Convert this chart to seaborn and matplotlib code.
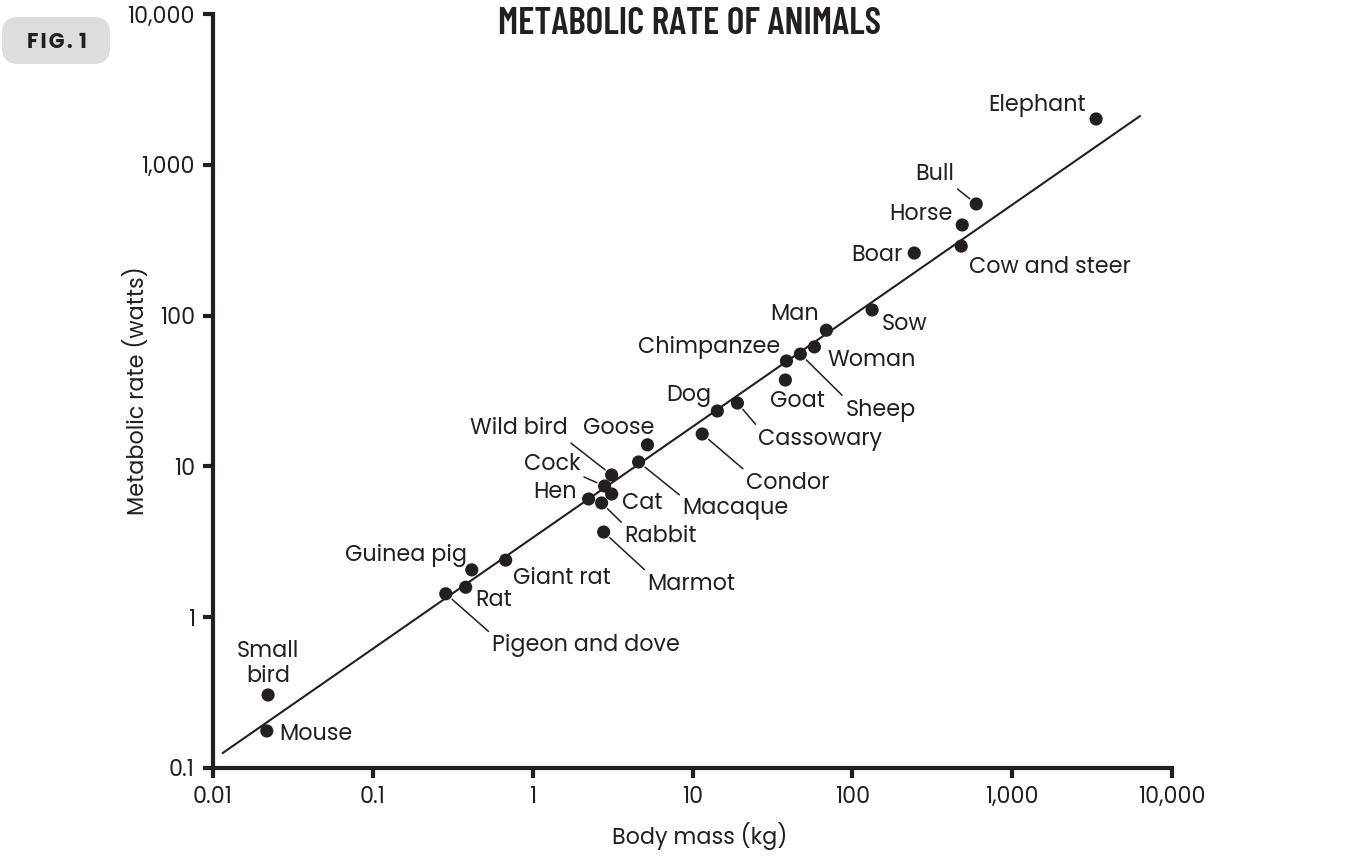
import matplotlib
matplotlib.use("Agg")
import matplotlib.pyplot as plt
from matplotlib.patches import FancyBboxPatch
import pandas as pd
import seaborn as sns

# data (log-log axes)
animals = [
    "Elephant", "Bull", "Horse", "Boar", "Cow and steer", "Sow", "Man",
    "Woman", "Sheep", "Chimpanzee", "Goat", "Dog", "Cassowary", "Condor",
    "Goose", "Macaque", "Wild bird", "Cock", "Cat", "Hen", "Rabbit",
    "Marmot", "Giant rat", "Guinea pig", "Rat", "Pigeon and dove",
    "Small\nbird", "Mouse",
]
body_mass_kg = [
    3350, 596, 487, 244, 480, 133, 68.8,
    57.9, 47.3, 38.7, 38.1, 14.3, 19.1, 11.5,
    5.23, 4.6, 3.12, 2.82, 3.12, 2.24, 2.70,
    2.78, 0.678, 0.416, 0.381, 0.286,
    0.0221, 0.0217,
]
metabolic_rate_w = [
    2013, 550, 399, 260, 289, 109, 80,
    62, 55.6, 50, 37.4, 23.3, 26.3, 16.4,
    13.9, 10.7, 8.77, 7.41, 6.56, 6.08, 5.72,
    3.67, 2.39, 2.06, 1.58, 1.43,
    0.305, 0.176,
]

# fitted line endpoints
fit_mass_kg = [0.0115, 6310]
fit_rate_w = [0.1257, 2107]

x_ticks = [0.01, 0.1, 1, 10, 100, 1000, 10000]
x_tick_labels = ["0.01", "0.1", "1", "10", "100", "1,000", "10,000"]
y_ticks = [0.1, 1, 10, 100, 1000, 10000]
y_tick_labels = ["0.1", "1", "10", "100", "1,000", "10,000"]

INK = "#231f20"
FONT = ["Poppins", "DejaVu Sans"]
FS = 16

# label placement: offset in pixels (dx, dy), alignment, leader line anchor on text
label_layout = {
    "Elephant": (-10, 13, "right", None),
    "Bull": (-22, 29, "right", (1, 0)),
    "Horse": (-10, 10, "right", None),
    "Boar": (-12, -2, "right", None),
    "Cow and steer": (8, -21, "left", None),
    "Sow": (10, -15, "left", None),
    "Man": (-7, 16, "right", None),
    "Woman": (13, -14, "left", None),
    "Sheep": (45, -56, "left", (0, 1)),
    "Chimpanzee": (-6, 13, "right", None),
    "Goat": (12, -21, "center", None),
    "Dog": (-6, 16, "right", None),
    "Cassowary": (21, -36, "left", (0, 1)),
    "Condor": (44, -49, "left", (0, 1)),
    "Goose": (-29, 16, "center", None),
    "Macaque": (44, -47, "left", (0, 1)),
    "Wild bird": (-44, 46, "right", (1, 0)),
    "Cock": (-24, 22, "right", (1, 0)),
    "Cat": (10, -9, "left", None),
    "Hen": (-12, 6, "right", None),
    "Rabbit": (23, -34, "left", (0, 1)),
    "Marmot": (44, -52, "left", (0, 1)),
    "Giant rat": (7, -18, "left", None),
    "Guinea pig": (-5, 14, "right", None),
    "Rat": (10, -13, "left", None),
    "Pigeon and dove": (46, -52, "left", (0, 1)),
    "Small\nbird": (0, 31, "center", None),
    "Mouse": (12, -4, "left", None),
}

df = pd.DataFrame({"animal": animals, "mass": body_mass_kg, "rate": metabolic_rate_w})
fit = pd.DataFrame({"mass": fit_mass_kg, "rate": fit_rate_w})

sns.set_theme(style="ticks")
plt.rcParams["font.family"] = FONT
plt.rcParams["text.color"] = INK

fig = plt.figure(figsize=(13.5, 8.66), dpi=100)
ax = fig.add_axes([213 / 1350, 98 / 866, 959 / 1350, 754 / 866])

sns.lineplot(data=fit, x="mass", y="rate", color=INK, linewidth=1.5, ax=ax)
sns.scatterplot(data=df, x="mass", y="rate", color=INK, s=90, edgecolor="none",
                ax=ax, zorder=3)

ax.set_xscale("log")
ax.set_yscale("log")
ax.set_xlim(0.01, 10000)
ax.set_ylim(0.1, 10000)
ax.set_xticks(x_ticks, x_tick_labels)
ax.set_yticks(y_ticks, y_tick_labels)
ax.minorticks_off()

for name, m, r in zip(animals, body_mass_kg, metabolic_rate_w):
    dx, dy, ha, rel = label_layout[name]
    kw = {}
    if rel is not None:
        kw["arrowprops"] = dict(arrowstyle="-", color=INK, lw=1.1, relpos=rel,
                                shrinkA=0, shrinkB=6)
    ax.annotate(name, xy=(m, r), xytext=(dx, dy), textcoords="offset pixels",
                ha=ha, va="center", fontsize=FS, color=INK,
                multialignment="center", linespacing=1.1, **kw)

sns.despine(ax=ax)
for side in ["left", "bottom"]:
    ax.spines[side].set_linewidth(3)
    ax.spines[side].set_color(INK)
ax.tick_params(axis="both", which="major", length=7, width=3, color=INK,
               labelcolor=INK, labelsize=FS, pad=6)

ax.set_xlabel("Body mass (kg)", fontsize=FS, color=INK)
ax.set_ylabel("Metabolic rate (watts)", fontsize=FS, color=INK)
ax.xaxis.set_label_coords(0.508, -0.0716)
ax.yaxis.set_label_coords(-0.066, 0.5)

fig.text(690 / 1350, 1 - 34 / 866, "METABOLIC RATE OF ANIMALS",
         family=["Barlow Condensed", "DejaVu Sans"], fontweight="semibold",
         fontsize=27, color=INK, ha="center", va="baseline")

badge = FancyBboxPatch((2 / 1350, 1 - 64 / 866), 108 / 1350, 47 / 866,
                       boxstyle="round,pad=0,rounding_size=0.012",
                       transform=fig.transFigure, facecolor="#dcdddf",
                       edgecolor="none", mutation_aspect=1350 / 866)
fig.patches.append(badge)
fig.text(57 / 1350, 1 - 48 / 866, "F\u200aI\u200aG\u200a.\u2009\u200a1",
         family=FONT, fontweight="bold", fontsize=15, color=INK,
         ha="center", va="baseline")

fig.savefig("out.png", dpi=100)
